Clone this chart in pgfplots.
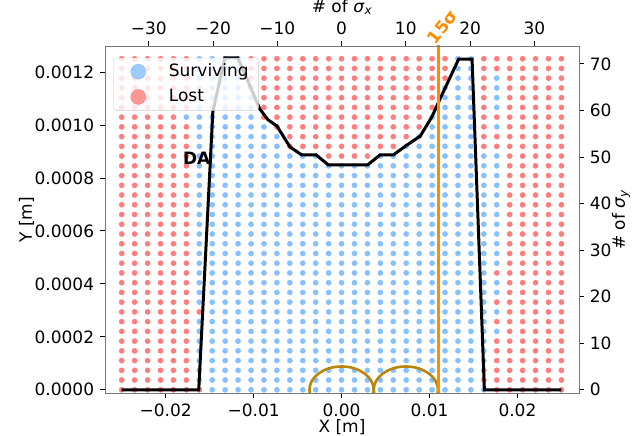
\documentclass[border=0pt]{standalone}
\usepackage{fontspec}
\setmainfont{DejaVu Sans}
\usepackage{pgfplots}
\usepackage{pgfplotstable}
\pgfplotsset{compat=1.18}

\definecolor{survblue}{RGB}{134,192,255}
\definecolor{lostred}{RGB}{255,125,125}
\definecolor{daorange}{RGB}{255,140,0}
\definecolor{beamgold}{RGB}{184,134,11}
\definecolor{spine}{RGB}{120,120,120}

% tracking result: 1 = surviving, 0 = lost
% one line per initial y, columns c0..c34 are x = -0.025 ... 0.025
\pgfplotstableread{
y c0 c1 c2 c3 c4 c5 c6 c7 c8 c9 c10 c11 c12 c13 c14 c15 c16 c17 c18 c19 c20 c21 c22 c23 c24 c25 c26 c27 c28 c29 c30 c31 c32 c33 c34
0.00125     0 0 0 0 0  0 1 1 1 1  0 0 0 0 0  0 0 0 0 0  0 0 0 0 0  0 1 1 0 0  0 0 0 0 0
0.0012132   0 0 0 0 0  0 1 1 1 1  0 0 0 0 0  0 0 0 0 0  0 0 0 0 0  0 1 1 0 0  0 0 0 0 0
0.0011765   0 0 0 0 0  0 1 1 1 1  0 0 0 0 0  0 0 0 0 0  0 0 0 0 0  0 1 1 0 1  0 0 0 0 0
0.0011397   0 0 0 0 0  0 1 1 1 1  0 0 0 0 0  0 0 0 0 0  0 0 0 0 0  1 1 1 0 1  0 0 0 0 0
0.0011029   0 0 0 0 0  0 1 1 1 1  1 0 0 0 0  0 0 0 0 0  0 0 0 0 0  1 1 1 0 1  0 0 0 0 0
0.0010662   0 0 0 0 0  0 1 1 1 1  1 0 0 0 0  0 0 0 0 0  0 0 0 0 0  1 1 1 0 1  0 0 0 0 0
0.0010294   0 0 0 0 0  1 1 1 1 1  1 0 0 0 0  0 0 0 0 0  0 0 0 0 1  1 1 1 0 0  0 0 0 0 0
0.00099265  0 0 0 0 0  0 1 1 1 1  1 1 0 0 0  0 0 0 0 0  0 0 0 0 1  1 1 1 0 1  0 0 0 0 0
0.00095588  0 0 0 0 0  0 1 1 1 1  1 1 1 0 0  0 0 0 0 0  0 0 0 1 1  1 1 1 0 0  0 0 0 0 0
0.00091912  0 0 0 0 0  0 1 1 1 1  1 1 1 0 0  0 0 0 0 0  0 0 1 1 1  1 1 1 0 0  0 0 0 0 0
0.00088235  0 0 0 0 0  0 1 1 1 1  1 1 1 1 1  1 0 0 0 0  1 1 1 1 1  1 1 1 1 1  0 0 0 0 0
0.00084559  0 0 0 0 0  0 1 1 1 1  1 1 1 1 1  1 1 1 1 1  1 1 1 1 1  1 1 1 1 1  0 0 0 0 0
0.00080882  0 0 0 0 0  0 1 1 1 1  1 1 1 1 1  1 1 1 1 1  1 1 1 1 1  1 1 1 1 1  0 0 0 0 0
0.00077206  0 0 0 0 0  0 1 1 1 1  1 1 1 1 1  1 1 1 1 1  1 1 1 1 1  1 1 1 1 1  0 0 0 0 0
0.00073529  0 0 0 0 0  0 1 1 1 1  1 1 1 1 1  1 1 1 1 1  1 1 1 1 1  1 1 1 1 1  0 0 0 0 0
0.00069853  0 0 0 0 0  0 1 1 1 1  1 1 1 1 1  1 1 1 1 1  1 1 1 1 1  1 1 1 1 1  0 0 0 0 0
0.00066176  0 0 0 0 0  0 1 1 1 1  1 1 1 1 1  1 1 1 1 1  1 1 1 1 1  1 1 1 1 1  0 0 0 0 0
0.000625    0 0 0 0 0  0 1 1 1 1  1 1 1 1 1  1 1 1 1 1  1 1 1 1 1  1 1 1 1 1  0 0 0 0 0
0.00058824  0 0 0 0 0  0 1 1 1 1  1 1 1 1 1  1 1 1 1 1  1 1 1 1 1  1 1 1 1 1  0 0 0 0 0
0.00055147  0 0 0 0 0  0 1 1 1 1  1 1 1 1 1  1 1 1 1 1  1 1 1 1 1  1 1 1 1 1  0 0 0 0 0
0.00051471  0 0 0 0 0  0 1 1 1 1  1 1 1 1 1  1 1 1 1 1  1 1 1 1 1  1 1 1 1 1  0 0 0 0 0
0.00047794  0 0 0 0 0  0 1 1 1 1  1 1 1 1 1  1 1 1 1 1  1 1 1 1 1  1 1 1 1 1  0 0 0 0 0
0.00044118  0 0 0 0 0  0 1 1 1 1  1 1 1 1 1  1 1 1 1 1  1 1 1 1 1  1 1 1 1 0  0 0 0 0 0
0.00040441  0 0 0 0 0  0 1 1 1 1  1 1 1 1 1  1 1 1 1 1  1 1 1 1 1  1 1 1 1 1  0 0 0 0 0
0.00036765  0 0 0 0 0  0 1 1 1 1  1 1 1 1 1  1 1 1 1 1  1 1 1 1 1  1 1 1 1 1  0 0 0 0 0
0.00033088  0 0 0 0 0  0 1 1 1 1  1 1 1 1 1  1 1 1 1 1  1 1 1 1 1  1 1 1 1 0  0 0 0 0 0
0.00029412  0 0 0 0 0  0 0 1 1 1  1 1 1 1 1  1 1 1 1 1  1 1 1 1 1  1 1 1 1 1  0 0 0 0 0
0.00025735  0 0 0 0 0  0 1 1 1 1  1 1 1 1 1  1 1 1 1 1  1 1 1 1 1  1 1 1 1 0  0 0 0 0 0
0.00022059  0 0 0 0 0  0 1 1 1 1  1 1 1 1 1  1 1 1 1 1  1 1 1 1 1  1 1 1 1 1  0 0 0 0 0
0.00018382  0 0 0 0 0  0 1 1 1 1  1 1 1 1 1  1 1 1 1 1  1 1 1 1 1  1 1 1 1 0  0 0 0 0 0
0.00014706  0 0 0 0 0  0 1 1 1 1  1 1 1 1 1  1 1 1 1 1  1 1 1 1 1  1 1 1 1 0  0 0 0 0 0
0.00011029  0 0 0 0 0  0 1 1 1 1  1 1 1 1 1  1 1 1 1 1  1 1 1 1 1  1 1 1 1 0  0 0 0 0 0
0.000073529 0 0 0 0 0  0 1 1 1 1  1 1 1 1 1  1 1 1 1 1  1 1 1 1 1  1 1 1 0 0  0 0 0 0 0
0.000036765 0 0 0 0 0  0 1 1 1 1  1 1 1 1 1  1 1 1 1 1  1 1 1 1 1  1 1 1 0 0  0 0 0 0 0
0           0 0 0 0 0  0 0 1 1 1  1 1 1 1 1  1 1 1 1 1  1 1 1 1 1  1 1 1 1 0  0 0 0 0 0
}\gridtab

\pgfplotsset{
  common/.style={
    scale only axis, width=474pt, height=347.3pt,
    tick align=outside, major tick length=5pt,
    axis line style={spine, line width=0.8pt},
    tick style={black, line width=0.8pt},
    scaled ticks=false,
  },
}

\begin{document}
\fontsize{17}{20}\selectfont
\begin{tikzpicture}
\begin{axis}[common,
  xmin=-0.0269, xmax=0.0270, ymin=-1.32e-5, ymax=0.001298,
  xtick={-0.02,-0.01,0,0.01,0.02},
  xticklabels={−0.02,−0.01,0.00,0.01,0.02},
  ytick={0,0.0002,0.0004,0.0006,0.0008,0.0010,0.0012},
  yticklabels={0.0000,0.0002,0.0004,0.0006,0.0008,0.0010,0.0012},
  xtick pos=left, ytick pos=left,
  xlabel={X [m]}, ylabel={Y [m]},
  xlabel shift=-9pt, ylabel shift=-11pt,
  clip marker paths=true,
  legend cell align=left,
  legend image code/.code={
    \path (-8pt,0pt) (1.3cm,0pt);
    \draw[#1] plot coordinates {(0.3cm,0cm)};
  },
  legend style={at={(0.0175,0.966)}, anchor=north west,
    fill=white, fill opacity=0.8, text opacity=1, draw=black!20,
    rounded corners=3pt, row sep=6pt, inner xsep=8pt, inner ysep=4pt},
]
\pgfplotsinvokeforeach{0,...,34}{
  \addplot[forget plot, scatter, only marks, mark size=2.6pt,
    point meta=explicit symbolic,
    scatter/classes={0={mark=*, draw=lostred, fill=lostred},
                     1={mark=*, draw=survblue, fill=survblue}}]
    table[x expr={(#1-17)*0.025/17}, y=y, meta=c#1] {\gridtab};
}

% dynamic aperture
\addplot[forget plot, black, line width=3pt] coordinates {
  (-0.025,0) (-0.01624,0) (-0.01464,0.001049) (-0.01328,0.001253)
  (-0.01179,0.001253) (-0.00929,0.00106) (-0.00838,0.00102)
  (-0.00735,0.000996) (-0.00587,0.000917) (-0.00454,0.000887)
  (-0.0029,0.000887) (-0.0015,0.000849) (0.00296,0.000849)
  (0.00439,0.000887) (0.0059,0.000887) (0.00743,0.000924)
  (0.00895,0.000958) (0.01028,0.001031) (0.01122,0.0011)
  (0.01331,0.001248) (0.01484,0.001248) (0.01624,0) (0.025,0)
};

% 5 sigma beam envelopes
\draw[beamgold, line width=2.6pt] (axis cs:0,0) ellipse [x radius=0.003655, y radius=8.8e-5];
\draw[beamgold, line width=2.6pt] (axis cs:0.00731,0) ellipse [x radius=0.003655, y radius=8.8e-5];

% 15 sigma marker
\addplot[forget plot, daorange, line width=3pt] coordinates {(0.011,-0.0001) (0.011,0.0014)};

\node[font=\bfseries] at (axis cs:-0.01647,0.000875) {DA};

\addlegendimage{only marks, mark=*, mark size=7.5pt, mark options={draw=survblue, fill=survblue}}
\addlegendentry{Surviving}
\addlegendimage{only marks, mark=*, mark size=7.5pt, mark options={draw=lostred, fill=lostred}}
\addlegendentry{Lost}

\coordinate (bl) at (rel axis cs:0,0);
\coordinate (top15) at (axis cs:0.011,0.001298);
\end{axis}

\begin{axis}[common,
  xmin=-36.81, xmax=36.95, ymin=-0.751, ymax=73.83,
  xtick={-30,-20,-10,0,10,20,30},
  xticklabels={−30,−20,−10,0,10,20,30},
  ytick={0,10,20,30,40,50,60,70},
  yticklabels={0,10,20,30,40,50,60,70},
  xtick pos=right, xticklabel pos=right,
  ytick pos=right, yticklabel pos=right,
  xlabel={\# of \textit{σ}\textsubscript{\textit{x}}},
  ylabel={\# of \textit{σ}\textsubscript{\textit{y}}},
  xlabel shift=-4pt, ylabel shift=-11pt,
]
\end{axis}

\node[daorange, font=\bfseries, rotate=52] at ([shift={(4pt,19pt)}]top15) {15σ};

\pgfresetboundingbox
\path[use as bounding box] ([shift={(-105pt,-42.7pt)}]bl) rectangle ++(637pt,436pt);
\end{tikzpicture}
\end{document}
